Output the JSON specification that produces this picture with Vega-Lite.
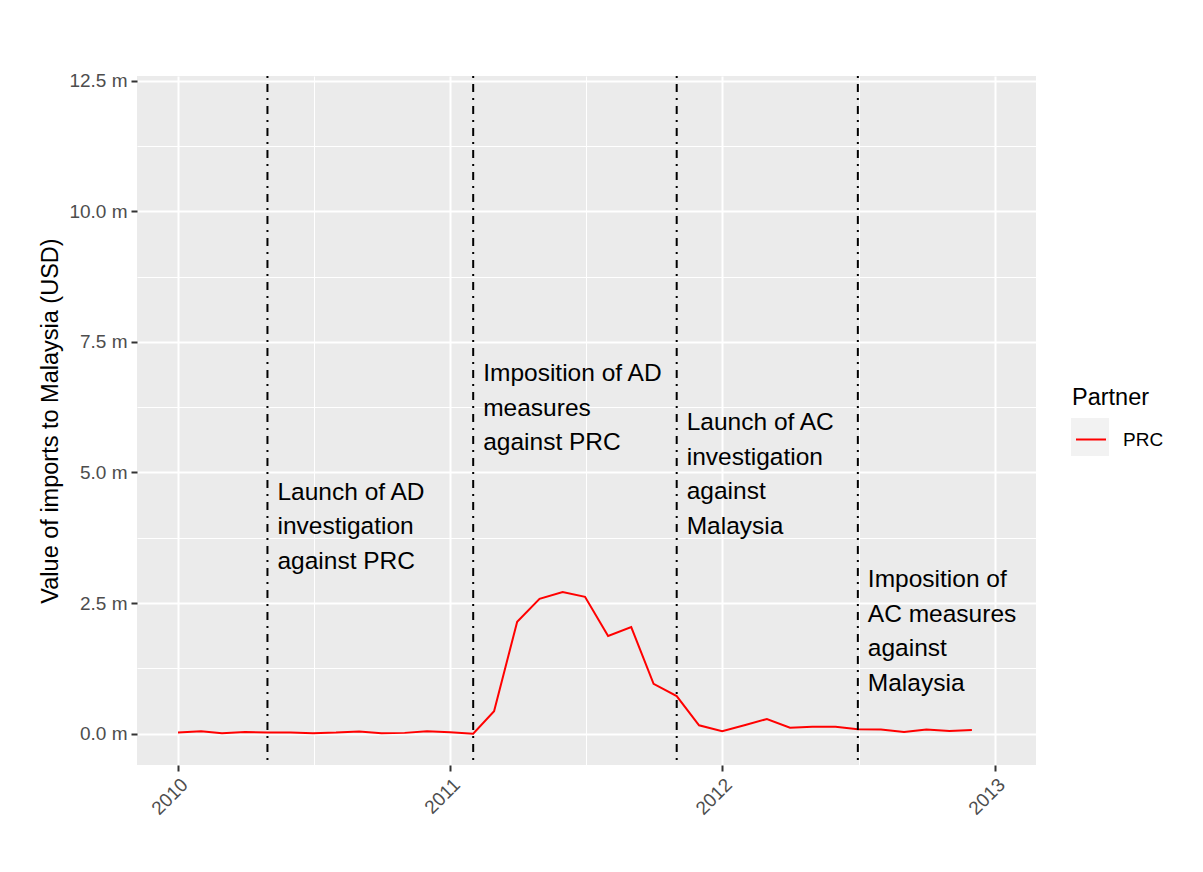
{
  "$schema": "https://vega.github.io/schema/vega-lite/v6.json",
  "width": 899,
  "height": 689,
  "autosize": {"type": "none"},
  "padding": {"left": 137, "top": 76, "right": 167, "bottom": 107},
  "background": "white",
  "config": {
    "view": {"fill": "#EBEBEB", "stroke": null},
    "font": "Liberation Sans"
  },
  "datasets": {
    "series": [
      {"Partner": "PRC", "date": "2010-01-01", "value": 0.02},
      {"Partner": "PRC", "date": "2010-02-01", "value": 0.045},
      {"Partner": "PRC", "date": "2010-03-01", "value": 0.01},
      {"Partner": "PRC", "date": "2010-04-01", "value": 0.03},
      {"Partner": "PRC", "date": "2010-05-01", "value": 0.02},
      {"Partner": "PRC", "date": "2010-06-01", "value": 0.02},
      {"Partner": "PRC", "date": "2010-07-01", "value": 0.01},
      {"Partner": "PRC", "date": "2010-08-01", "value": 0.02},
      {"Partner": "PRC", "date": "2010-09-01", "value": 0.04},
      {"Partner": "PRC", "date": "2010-10-01", "value": 0.01},
      {"Partner": "PRC", "date": "2010-11-01", "value": 0.015},
      {"Partner": "PRC", "date": "2010-12-01", "value": 0.045},
      {"Partner": "PRC", "date": "2011-01-01", "value": 0.025},
      {"Partner": "PRC", "date": "2011-02-01", "value": 0.0},
      {"Partner": "PRC", "date": "2011-03-01", "value": 0.43},
      {"Partner": "PRC", "date": "2011-04-01", "value": 2.14},
      {"Partner": "PRC", "date": "2011-05-01", "value": 2.58},
      {"Partner": "PRC", "date": "2011-06-01", "value": 2.71},
      {"Partner": "PRC", "date": "2011-07-01", "value": 2.62},
      {"Partner": "PRC", "date": "2011-08-01", "value": 1.87},
      {"Partner": "PRC", "date": "2011-09-01", "value": 2.04},
      {"Partner": "PRC", "date": "2011-10-01", "value": 0.955},
      {"Partner": "PRC", "date": "2011-11-01", "value": 0.72},
      {"Partner": "PRC", "date": "2011-12-01", "value": 0.16},
      {"Partner": "PRC", "date": "2012-01-01", "value": 0.045},
      {"Partner": "PRC", "date": "2012-02-01", "value": 0.165},
      {"Partner": "PRC", "date": "2012-03-01", "value": 0.28},
      {"Partner": "PRC", "date": "2012-04-01", "value": 0.115},
      {"Partner": "PRC", "date": "2012-05-01", "value": 0.13},
      {"Partner": "PRC", "date": "2012-06-01", "value": 0.13},
      {"Partner": "PRC", "date": "2012-07-01", "value": 0.085},
      {"Partner": "PRC", "date": "2012-08-01", "value": 0.08},
      {"Partner": "PRC", "date": "2012-09-01", "value": 0.03},
      {"Partner": "PRC", "date": "2012-10-01", "value": 0.08},
      {"Partner": "PRC", "date": "2012-11-01", "value": 0.05},
      {"Partner": "PRC", "date": "2012-12-01", "value": 0.07}
    ],
    "events": [
      {"date": "2010-05-01", "ypos": 4.61, "label": "Launch of AD\ninvestigation\nagainst PRC"},
      {"date": "2011-02-01", "ypos": 6.88, "label": "Imposition of AD\nmeasures\nagainst PRC"},
      {"date": "2011-11-01", "ypos": 5.94, "label": "Launch of AC\ninvestigation\nagainst\nMalaysia"},
      {"date": "2012-07-01", "ypos": 2.94, "label": "Imposition of\nAC measures\nagainst\nMalaysia"}
    ],
    "legendkey": [
      {"key": "PRC", "date": "2010-01-01", "value": 0}
    ]
  },
  "layer": [
    {
      "data": {"name": "legendkey"},
      "mark": {"type": "point", "opacity": 0, "filled": true},
      "encoding": {
        "x": {"field": "date", "type": "temporal"},
        "y": {"field": "value", "type": "quantitative"},
        "fill": {
          "field": "key",
          "type": "nominal",
          "scale": {"range": ["#F2F2F2"]},
          "legend": {
            "orient": "none",
            "legendX": 934,
            "legendY": 342,
            "title": null,
            "symbolType": "square",
            "symbolSize": 1444,
            "symbolStrokeWidth": 0,
            "symbolOpacity": 1,
            "labelExpr": "''",
            "zindex": 1
          }
        }
      }
    },
    {
      "data": {"name": "series"},
      "mark": {"type": "line", "strokeWidth": 2},
      "encoding": {
        "x": {
          "field": "date",
          "type": "temporal",
          "scale": {
            "type": "utc",
            "domain": [
              {"year": 2009, "month": 11, "date": 7, "utc": true},
              {"year": 2013, "month": 2, "date": 25, "utc": true}
            ]
          },
          "axis": {
            "values": [
              {"year": 2010, "month": 1, "date": 1, "utc": true},
              {"year": 2010, "month": 7, "date": 2, "hours": 12, "utc": true},
              {"year": 2011, "month": 1, "date": 1, "utc": true},
              {"year": 2011, "month": 7, "date": 2, "hours": 12, "utc": true},
              {"year": 2012, "month": 1, "date": 1, "utc": true},
              {"year": 2012, "month": 7, "date": 2, "hours": 12, "utc": true},
              {"year": 2013, "month": 1, "date": 1, "utc": true}
            ],
            "labelExpr": "utcmonth(datum.value) == 0 ? utcFormat(datum.value, '%Y') : ''",
            "labelAngle": -45,
            "labelAlign": "right",
            "labelBaseline": "top",
            "labelFontSize": 19,
            "labelColor": "#4D4D4D",
            "labelPadding": 4,
            "labelOverlap": false,
            "labelFlush": false,
            "tickColor": "#333333",
            "tickSize": 6,
            "tickWidth": 2,
            "tickOpacity": {"condition": {"test": "utcmonth(datum.value) != 0", "value": 0}, "value": 1},
            "gridColor": "white",
            "gridWidth": {"condition": {"test": "utcmonth(datum.value) != 0", "value": 1}, "value": 2},
            "domain": false,
            "title": null
          }
        },
        "y": {
          "field": "value",
          "type": "quantitative",
          "scale": {"domain": [-0.6, 12.59], "nice": false, "zero": false},
          "axis": {
            "values": [0, 1.25, 2.5, 3.75, 5, 6.25, 7.5, 8.75, 10, 11.25, 12.5],
            "labelExpr": "datum.value % 2.5 == 0 ? format(datum.value, '.1f') + ' m' : ''",
            "labelFontSize": 19,
            "labelColor": "#4D4D4D",
            "labelPadding": 4,
            "labelOverlap": false,
            "labelFlush": false,
            "tickColor": "#333333",
            "tickSize": 6,
            "tickWidth": 2,
            "tickOpacity": {"condition": {"test": "datum.value % 2.5 != 0", "value": 0}, "value": 1},
            "gridColor": "white",
            "gridWidth": {"condition": {"test": "datum.value % 2.5 != 0", "value": 1}, "value": 2},
            "domain": false,
            "title": "Value of imports to Malaysia (USD)",
            "titleFontSize": 23.5,
            "titleFontWeight": "normal",
            "titleColor": "black",
            "titlePadding": 6
          }
        },
        "color": {
          "field": "Partner",
          "type": "nominal",
          "scale": {"range": ["#FF0000"]},
          "legend": {
            "orient": "none",
            "legendX": 935,
            "legendY": 310,
            "title": "Partner",
            "titleFontSize": 23.5,
            "titleFontWeight": "normal",
            "titleColor": "black",
            "titlePadding": 14,
            "labelFontSize": 19,
            "labelColor": "black",
            "labelOffset": 16,
            "symbolType": "stroke",
            "symbolSize": 900,
            "symbolStrokeWidth": 2,
            "symbolOffset": 3,
            "zindex": 2
          }
        }
      }
    },
    {
      "data": {"name": "events"},
      "mark": {"type": "rule", "color": "black", "strokeWidth": 2, "strokeDash": [2, 6, 8, 6]},
      "encoding": {
        "x": {"field": "date", "type": "temporal"}
      }
    },
    {
      "data": {"name": "events"},
      "mark": {
        "type": "text",
        "align": "left",
        "baseline": "middle",
        "dx": 10,
        "fontSize": 24.5,
        "lineHeight": 34.5,
        "lineBreak": "\n",
        "color": "black"
      },
      "encoding": {
        "x": {"field": "date", "type": "temporal"},
        "y": {"field": "ypos", "type": "quantitative"},
        "text": {"field": "label", "type": "nominal"}
      }
    }
  ]
}
